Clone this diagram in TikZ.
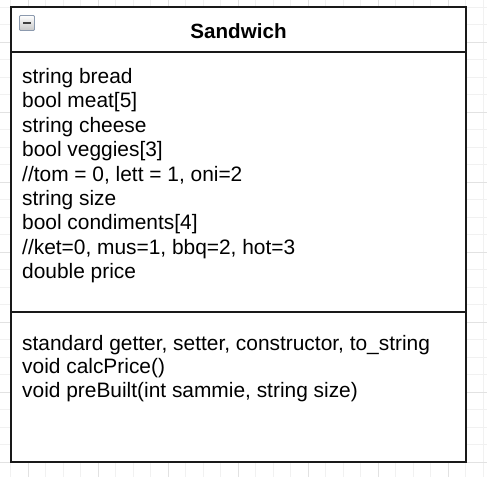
\documentclass[tikz,border=0pt]{standalone}
\usepackage{fontspec}
\setmainfont{Liberation Sans}
\usepackage{xcolor}
\usetikzlibrary{positioning}
\definecolor{minorgray}{HTML}{F1F1F1}
\definecolor{majorgray}{HTML}{E2E2E2}
\definecolor{iconedge}{HTML}{8C9AAE}

\begin{document}
\begin{tikzpicture}[
      x=1pt, y=-1pt,
      minorline/.style={draw=minorgray, line width=1pt},
      majorline/.style={draw=majorgray, line width=1pt},
      classedge/.style={draw=black!90, line width=2pt},
      member/.style={anchor=base west, inner sep=0pt, font=\fontsize{20.9}{24.4}\selectfont},
      title/.style={inner sep=0pt, font=\fontsize{20.6}{24.4}\selectfont\bfseries}
    ]
      \useasboundingbox (0,0) rectangle (487,477);
      \fill[white] (0,0) rectangle (487,477);
      % Background grid
      \foreach \i in {0,...,27} {
        \draw[minorline] ({10.8+17.5*\i},0) -- ({10.8+17.5*\i},477);
      }
      \foreach \i in {0,...,26} {
        \draw[minorline] (0,{7+17.5*\i}) -- (487,{7+17.5*\i});
      }
      \foreach \i in {0,...,6} {
        \draw[majorline] ({28.3+70*\i},0) -- ({28.3+70*\i},477);
        \draw[majorline] (0,{42+70*\i}) -- (487,{42+70*\i});
      }
      % Class box
      \fill[white] (11,7) rectangle (466,462);
      \draw[classedge] (11,7) rectangle (466,462);
      \draw[classedge] (11,52) -- (466,52);
      \draw[classedge] (11,312) -- (466,312);
      % Collapse icon
      \shade[top color=white, bottom color=black!22, draw=iconedge, line width=0.8pt, rounded corners=1pt]
        (19.5,15.5) rectangle (34.5,30.5);
      \draw[black!75, line width=2.6pt] (23,23) -- (31,23);
      % Title
      \node[title] (name) at (238.5,31.5) {Sandwich};
      % Attributes
      \node[member] (attr1) at (22,83.5) {string bread};
      \node[member] (attr2) at (22,107.9) {bool meat[5]};
      \node[member] (attr3) at (22,132.3) {string cheese};
      \node[member] (attr4) at (22,156.7) {bool veggies[3]};
      \node[member] (attr5) at (22,181.1) {//tom = 0, lett = 1, oni=2};
      \node[member] (attr6) at (22,205.5) {string size};
      \node[member] (attr7) at (22,229.9) {bool condiments[4]};
      \node[member] (attr8) at (22,254.3) {//ket=0, mus=1, bbq=2, hot=3};
      \node[member] (attr9) at (22,278.7) {double price};
      % Methods
      \node[member] (meth1) at (22,350) {standard getter, setter, constructor, to\_string};
      \node[member] (meth2) at (22,373.8) {void calcPrice()};
      \node[member] (meth3) at (22,397.6) {void preBuilt(int sammie, string size)};
    \end{tikzpicture}
\end{document}
